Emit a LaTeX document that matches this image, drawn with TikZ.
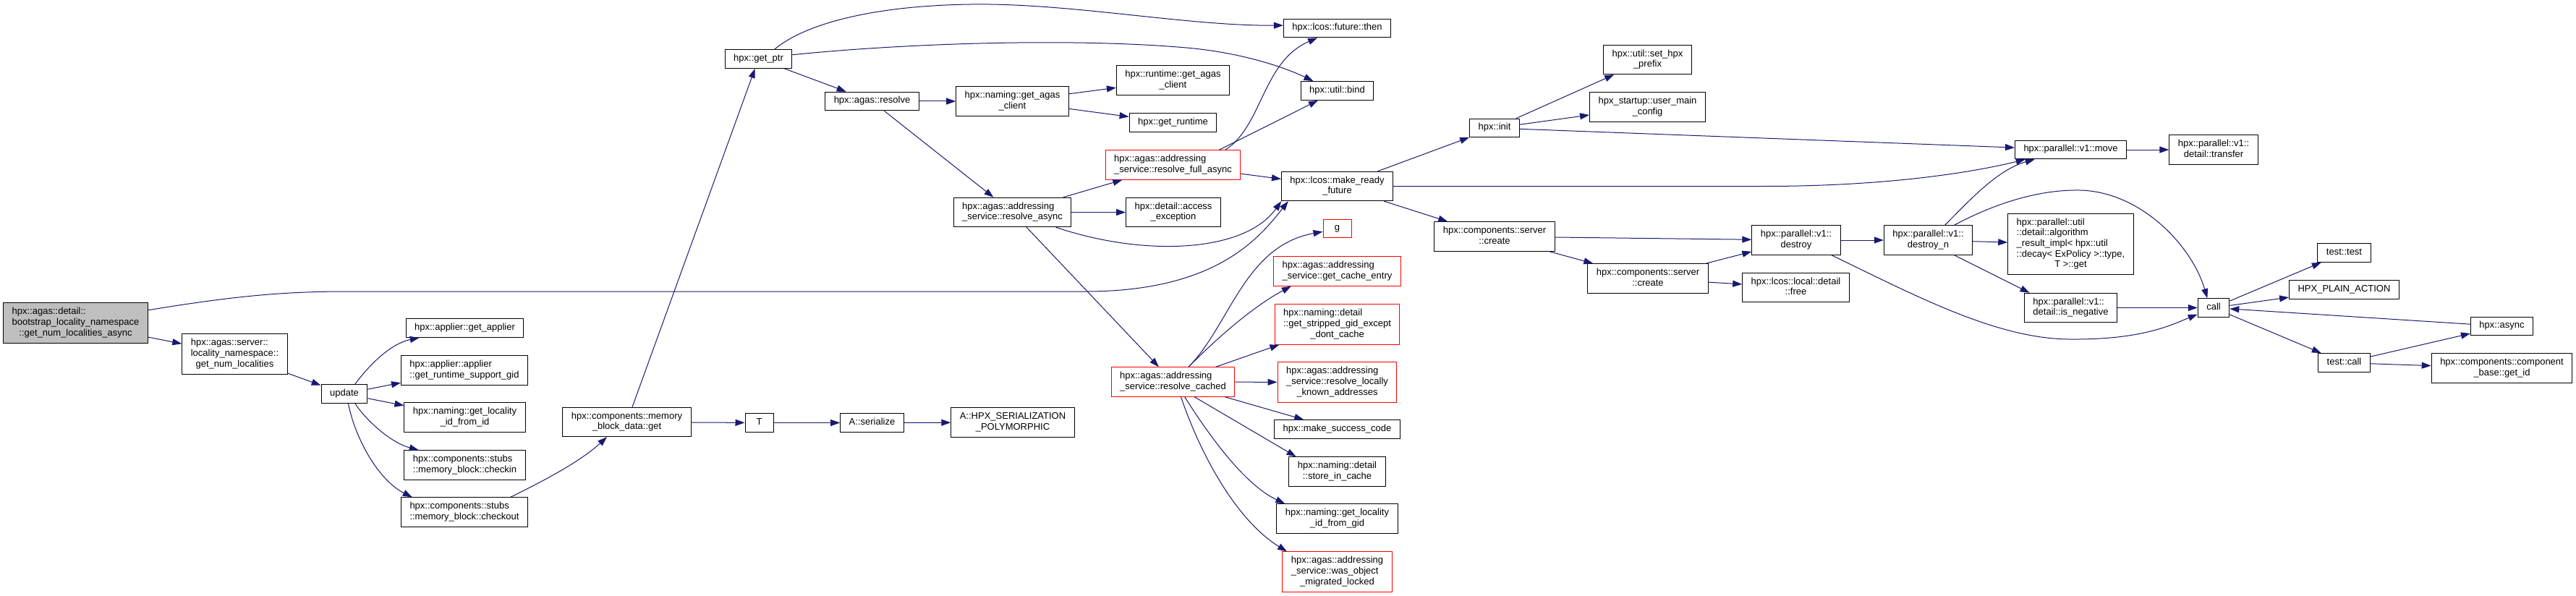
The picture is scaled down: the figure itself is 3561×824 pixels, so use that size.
\documentclass[tikz,border=0pt]{standalone}
\usepackage{fontspec}
\setmainfont{Liberation Sans}
\usetikzlibrary{arrows.meta}

\definecolor{edgeblue}{HTML}{191970}
\definecolor{rootgray}{HTML}{BFBFBF}
\newcommand{\fnfont}{\fontsize{13}{14.7}\selectfont}
% all lines but the last flush left, the last one centred
\newcommand{\fnlines}[2]{\begin{tabular}{@{}l@{}}#1\\\multicolumn{1}{@{}c@{}}{#2}\end{tabular}}

\begin{document}
\begin{tikzpicture}[x=1pt, y=-1pt,
  fn/.style={draw=black, fill=white, line width=1pt, inner xsep=12pt, inner ysep=5.5pt,
    minimum width=39pt, font=\fnfont, execute at begin node=\strut},
  trunc/.style={fn, draw=red},
  focus/.style={fn, fill=rootgray},
  calls/.style={draw=edgeblue, line width=1pt, -{Triangle[length=13pt, width=9pt]}}]
  \fill[white] (0,0) rectangle (3561,824);
  \useasboundingbox (0,0) rectangle (3561,824);

  \node[focus] (root) at (104.5,446.5) {\fnlines{hpx::agas::detail::\\bootstrap\_locality\_namespace}{::get\_num\_localities\_async}};
  \node[fn] (locns) at (324.5,489.5) {\fnlines{hpx::agas::server::\\locality\_namespace::}{get\_num\_localities}};
  \node[fn] (update) at (476,544.5) {update};
  \node[fn] (getapplier) at (642.5,453.5) {hpx::applier::get\_applier};
  \node[fn] (rtsgid) at (642,512) {\fnlines{hpx::applier::applier}{::get\_runtime\_support\_gid}};
  \node[fn] (locidfromid) at (642.5,577) {\fnlines{hpx::naming::get\_locality}{\_id\_from\_id}};
  \node[fn] (checkin) at (642.5,643) {\fnlines{hpx::components::stubs}{::memory\_block::checkin}};
  \node[fn] (checkout) at (642,708) {\fnlines{hpx::components::stubs}{::memory\_block::checkout}};
  \node[fn] (mbdget) at (866.5,583.5) {\fnlines{hpx::components::memory}{\_block\_data::get}};
  \node[fn] (getptr) at (1048.5,81.5) {hpx::get\_ptr};
  \node[fn] (T) at (1049.5,584.5) {T};
  \node[fn] (resolve) at (1205.5,140) {hpx::agas::resolve};
  \node[fn] (serialize) at (1205.5,584.5) {A::serialize};
  \node[fn] (namingagas) at (1399.5,140) {\fnlines{hpx::naming::get\_agas}{\_client}};
  \node[fn] (resolveasync) at (1399.5,293.5) {\fnlines{hpx::agas::addressing}{\_service::resolve\_async}};
  \node[fn] (hpxser) at (1400,584) {\fnlines{A::HPX\_SERIALIZATION}{\_POLYMORPHIC}};

  \node[fn] (rtagas) at (1621.5,111) {\fnlines{hpx::runtime::get\_agas}{\_client}};
  \node[fn] (getruntime) at (1621.5,169.5) {hpx::get\_runtime};
  \node[trunc] (resolvefull) at (1621.5,228) {\fnlines{hpx::agas::addressing}{\_service::resolve\_full\_async}};
  \node[fn] (accessexc) at (1622,293.5) {\fnlines{hpx::detail::access}{\_exception}};
  \node[trunc] (resolvecached) at (1621.5,528) {\fnlines{hpx::agas::addressing}{\_service::resolve\_cached}};

  \node[fn] (futthen) at (1848.5,39) {hpx::lcos::future::then};
  \node[fn] (bind) at (1848.5,125.5) {hpx::util::bind};
  \node[fn] (mkready) at (1848.5,257.5) {\fnlines{hpx::lcos::make\_ready}{\_future}};
  \node[trunc] (g) at (1848.5,316) {g};
  \node[trunc] (cacheentry) at (1848.5,375) {\fnlines{hpx::agas::addressing}{\_service::get\_cache\_entry}};
  \node[trunc] (stripped) at (1848.5,448.5) {\fnlines{hpx::naming::detail\\::get\_stripped\_gid\_except}{\_dont\_cache}};
  \node[trunc] (locallyknown) at (1848.5,528.5) {\fnlines{hpx::agas::addressing\\\_service::resolve\_locally}{\_known\_addresses}};
  \node[fn] (successcode) at (1848.5,593.5) {hpx::make\_success\_code};
  \node[fn] (storecache) at (1848.5,652) {\fnlines{hpx::naming::detail}{::store\_in\_cache}};
  \node[fn] (locidfromgid) at (1848.5,717) {\fnlines{hpx::naming::get\_locality}{\_id\_from\_gid}};
  \node[trunc] (migrated) at (1848.5,790.5) {\fnlines{hpx::agas::addressing\\\_service::was\_object}{\_migrated\_locked}};

  \node[fn] (init) at (2066,177) {hpx::init};
  \node[fn] (servercreate) at (2066,327) {\fnlines{hpx::components::server}{::create}};
  \node[fn] (sethpxprefix) at (2277.5,82.5) {\fnlines{hpx::util::set\_hpx}{\_prefix}};
  \node[fn] (usermain) at (2277.5,148) {\fnlines{hpx\_startup::user\_main}{\_config}};
  \node[fn] (servercreateb) at (2278,385) {\fnlines{hpx::components::server}{::create}};
  \node[fn] (destroy) at (2483,332) {\fnlines{hpx::parallel::v1::}{destroy}};
  \node[fn] (lcosfree) at (2482.5,397.5) {\fnlines{hpx::lcos::local::detail}{::free}};
  \node[fn] (destroyn) at (2665.5,332) {\fnlines{hpx::parallel::v1::}{destroy\_n}};
  \node[fn] (pmove) at (2862.5,207) {hpx::parallel::v1::move};
  \node[fn] (algoresult) at (2862.5,337.5) {\fnlines{hpx::parallel::util\\::detail::algorithm\\\_result\_impl< hpx::util\\::decay< ExPolicy >::type,}{T >::get}};
  \node[fn] (isneg) at (2862.5,425.5) {\fnlines{hpx::parallel::v1::}{detail::is\_negative}};
  \node[fn] (transfer) at (3060,207) {\fnlines{hpx::parallel::v1::}{detail::transfer}};
  \node[fn] (call) at (3060,425.5) {call};
  \node[fn] (testtest) at (3240.5,349.5) {test::test};
  \node[fn] (plainaction) at (3240.5,400.5) {HPX\_PLAIN\_ACTION};
  \node[fn] (testcall) at (3240.5,501.5) {test::call};
  \node[fn] (async) at (3458.5,451) {hpx::async};
  \node[fn] (compbase) at (3458.5,509) {\fnlines{hpx::components::component}{\_base::get\_id}};

  % calls, left to right
  \draw[calls] (root) -- (locns);
  \draw[calls] (root.10) .. controls (330,408) and (400,403) .. (480,403) -- (1500,403)
    .. controls (1680,403) and (1740,330) .. (mkready.197);
  \draw[calls] (locns) -- (update);
  \draw[calls] (update.42) .. controls (510,505) and (540,475) .. (getapplier.192);
  \draw[calls] (update) -- (rtsgid);
  \draw[calls] (update) -- (locidfromid);
  \draw[calls] (update.-42) .. controls (505,580) and (540,612) .. (checkin.162);
  \draw[calls] (update.-68) .. controls (492,610) and (525,665) .. (checkout.164);
  \draw[calls] (checkout.18) .. controls (745,668) and (800,640) .. (mbdget.217);
  \draw[calls] (mbdget) -- (getptr);
  \draw[calls] (mbdget) -- (T);
  \draw[calls] (T) -- (serialize);
  \draw[calls] (serialize) -- (hpxser);

  \draw[calls] (getptr.31) .. controls (1110,35) and (1200,8) .. (1342,6)
    .. controls (1480,4) and (1640,36) .. (futthen.177);
  \draw[calls] (getptr.7) .. controls (1250,60) and (1480,52) .. (1640,66)
    .. controls (1720,73) and (1780,95) .. (bind.158);
  \draw[calls] (getptr) -- (resolve);
  \draw[calls] (resolve) -- (namingagas);
  \draw[calls] (resolve) -- (resolveasync);
  \draw[calls] (namingagas) -- (rtagas);
  \draw[calls] (namingagas) -- (getruntime);
  \draw[calls] (resolveasync) -- (resolvefull);
  \draw[calls] (resolveasync) -- (accessexc);
  \draw[calls] (resolveasync.-19) .. controls (1580,355) and (1720,350) .. (mkready.195);
  \draw[calls] (resolveasync) -- (resolvecached);

  \draw[calls] (resolvefull.16) .. controls (1745,175) and (1745,85) .. (futthen.206);
  \draw[calls] (resolvefull.18) -- (bind);
  \draw[calls] (resolvefull) -- (mkready);
  \draw[calls] (resolvecached.44) .. controls (1700,450) and (1720,340) .. (g.192);
  \draw[calls] (resolvecached.44) .. controls (1680,470) and (1730,425) .. (cacheentry.198);
  \draw[calls] (resolvecached) -- (stripped);
  \draw[calls] (resolvecached) -- (locallyknown);
  \draw[calls] (resolvecached) -- (successcode);
  \draw[calls] (resolvecached.-35) -- (storecache.160);
  \draw[calls] (resolvecached.-52) .. controls (1670,600) and (1720,670) .. (locidfromgid.164);
  \draw[calls] (resolvecached.-62) .. controls (1660,630) and (1710,720) .. (migrated.158);

  \draw[calls] (mkready) -- (init);
  \draw[calls] (mkready.east) -- (2440,257.5) .. controls (2600,257.5) and (2720,240) .. (pmove.192);
  \draw[calls] (mkready) -- (servercreate);
  \draw[calls] (init) -- (sethpxprefix);
  \draw[calls] (init) -- (usermain);
  \draw[calls] (init) -- (pmove);
  \draw[calls] (servercreate) -- (destroy);
  \draw[calls] (servercreate) -- (servercreateb);
  \draw[calls] (servercreateb) -- (destroy);
  \draw[calls] (servercreateb) -- (lcosfree);
  \draw[calls] (destroy) -- (destroyn);
  \draw[calls] (destroy.-23) .. controls (2650,410) and (2760,468) .. (2860,469)
    .. controls (2960,470) and (3000,450) .. (call.202);
  \draw[calls] (destroyn.42) .. controls (2720,280) and (2760,235) .. (pmove.195);
  \draw[calls] (destroyn.30) .. controls (2760,280) and (2820,262) .. (2875,263)
    .. controls (2960,265) and (3030,340) .. (call.123);
  \draw[calls] (destroyn) -- (algoresult);
  \draw[calls] (destroyn.-30) -- (isneg.160);
  \draw[calls] (isneg) -- (call);
  \draw[calls] (pmove) -- (transfer);
  \draw[calls] (call) -- (testtest);
  \draw[calls] (call) -- (plainaction);
  \draw[calls] (call) -- (testcall);
  \draw[calls] (async) -- (call);
  \draw[calls] (testcall) -- (async);
  \draw[calls] (testcall) -- (compbase);
\end{tikzpicture}
\end{document}
